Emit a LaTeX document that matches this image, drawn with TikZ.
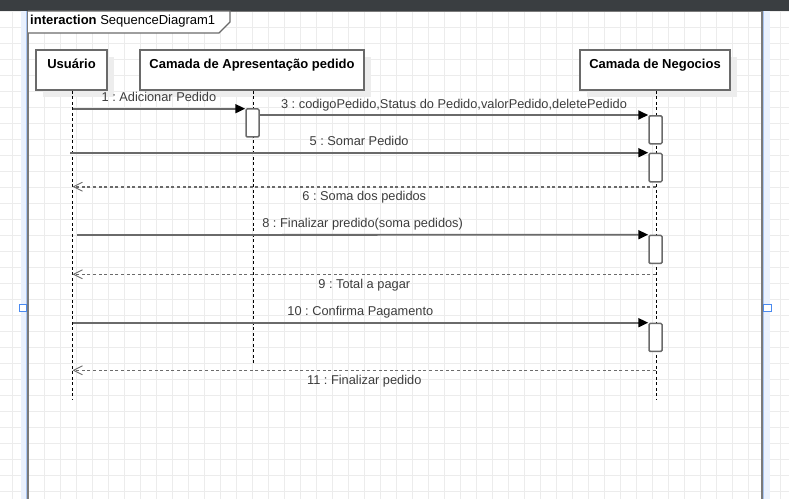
\documentclass[tikz,border=0pt]{standalone}
\usepackage{fontspec}
\setmainfont{Liberation Sans}
\frenchspacing
\usetikzlibrary{arrows.meta,shadows}
\definecolor{bar}{HTML}{3A3E41}
\definecolor{gridc}{HTML}{ECECEC}
\definecolor{framec}{HTML}{7A7A7A}
\definecolor{boxc}{HTML}{6A6A6A}
\definecolor{msgc}{HTML}{6A6A6A}
\definecolor{txtc}{HTML}{3C3C3C}
\definecolor{strip}{HTML}{EAF1FD}
\definecolor{stripline}{HTML}{A8C4F2}
\definecolor{handle}{HTML}{4A8AF0}
\tikzset{
  x=1pt, y=-1pt,
  gridline/.style={draw=gridc, line width=1pt},
  head/.style={draw=boxc, line width=1.5pt, fill=white, minimum height=40pt,
    inner xsep=0pt, inner ysep=0pt, text height=18pt, text depth=22pt,
    font=\bfseries\fontsize{13}{15}\selectfont,
    drop shadow={shadow xshift=7pt, shadow yshift=-7pt, fill=black!7, opacity=1}},
  actbox/.style={draw=boxc, line width=1.5pt, fill=white, rounded corners=1.2pt,
    minimum width=13pt, inner sep=0pt},
  lifeline/.style={draw=black, line width=0.9pt, dash pattern=on 3pt off 2.5pt},
  msg/.style={draw=msgc, line width=1.8pt, -{Triangle[length=10pt,width=9pt,black]}},
  ret/.style={draw=msgc, line width=1.6pt, dash pattern=on 3pt off 2.6pt,
    -{Straight Barb[length=9pt,width=9pt,line width=0.9pt,msgc]}},
  lab/.style={font=\fontsize{12.8}{14}\selectfont, text=txtc, inner sep=1pt,
    text height=9pt, text depth=3pt},
}
\begin{document}
\begin{tikzpicture}
\useasboundingbox (0,0) rectangle (789,499);
\clip (0,0) rectangle (789,499);
% grid
\foreach \i in {0,...,49} \draw[gridline] (12.5+16*\i,0) -- (12.5+16*\i,499);
\foreach \i in {0,...,31} \draw[gridline] (0,11.5+16*\i) -- (789,11.5+16*\i);
% selection strips
\fill[strip] (21,10) rectangle (27,499);
\fill[strip] (763,10) rectangle (770,499);
\draw[stripline, line width=0.8pt] (763.5,10) -- (763.5,499);
\draw[stripline, line width=0.8pt] (26.5,10) -- (26.5,499);
% frame
\draw[framec, line width=2pt] (28,11) -- (28,499);
\draw[framec, line width=2pt] (762,11) -- (762,499);
\draw[framec, line width=1pt] (28,11) -- (762,11);
% top bar
\fill[bar] (0,0) rectangle (789,10.5);
% frame header
\draw[boxc, line width=1.4pt, fill=white] (28,11) -- (230,11) -- (230,22) -- (219,33) -- (28,33);
\node[anchor=west, inner sep=0pt, font=\fontsize{13}{15}\selectfont] (hdr) at (30,21.5)
  {\textbf{interaction} SequenceDiagram1};
% lifeline heads
\node[head, minimum width=71pt] (u) at (71.5,70) {Usuário};
\node[head, minimum width=224pt] (a) at (252,70) {Camada de Apresentação pedido};
\node[head, minimum width=150pt] (n) at (655,70) {Camada de Negocios};
% lifelines
\coordinate (uend) at (72.5,399);
\coordinate (aend) at (253.5,363);
\coordinate (nend) at (656,399);
\draw[lifeline] (u.south -| uend) -- (uend);
\draw[lifeline] (a.south -| aend) -- (aend);
\draw[lifeline] (n.south -| nend) -- (nend);
% activations
\node[actbox, minimum height=28pt, anchor=north] (act1) at (252.5,108.2) {};
\node[actbox, minimum height=28pt, anchor=north] (n1) at (655.5,115) {};
\node[actbox, minimum height=28.3pt, anchor=north] (n2) at (655.5,152.7) {};
\node[actbox, minimum height=28pt, anchor=north] (n3) at (655.5,234.7) {};
\node[actbox, minimum height=28pt, anchor=north] (n4) at (655.5,322.7) {};
% message ends
\coordinate (s1) at (72.5,108.7);
\coordinate (s5) at (70,152.7);
\coordinate (s8) at (77,235);
\coordinate (s10) at (72.5,322.7);
\coordinate (r6a) at (656,186.7);
\coordinate (r6b) at (72.5,186.7);
\coordinate (r9a) at (656,274.3);
\coordinate (r9b) at (72.5,274.3);
\coordinate (r11a) at (656,370.3);
\coordinate (r11b) at (72.5,370.3);
% messages
\draw[msg] (s1) -- node[lab, above=2pt] {1 : Adicionar Pedido} (act1.north west |- s1);
\draw[msg] (act1.east |- n1.north) -- node[lab, above=2pt] {3 : codigoPedido,Status do Pedido,valorPedido,deletePedido} (n1.north west);
\draw[msg] (s5) -- node[lab, above=2pt] {5 : Somar Pedido} (n2.north west);
\draw[ret] (r6a) -- node[lab, below=3pt] {6 : Soma dos pedidos} (r6b);
\draw[msg] (s8) -- node[lab, above=2pt] {8 : Finalizar predido(soma pedidos)} (n3.north west);
\draw[ret] (r9a) -- node[lab, below=3pt] {9 : Total a pagar} (r9b);
\draw[msg] (s10) -- node[lab, above=2pt] {10 : Confirma Pagamento} (n4.north west);
\draw[ret] (r11a) -- node[lab, below=3pt] {11 : Finalizar pedido} (r11b);
% selection handles
\draw[handle, line width=1pt, fill=white] (19.5,304.5) rectangle (26.5,311.5);
\draw[handle, line width=1pt, fill=white] (763.5,304.5) rectangle (771,311.5);
\end{tikzpicture}
\end{document}
